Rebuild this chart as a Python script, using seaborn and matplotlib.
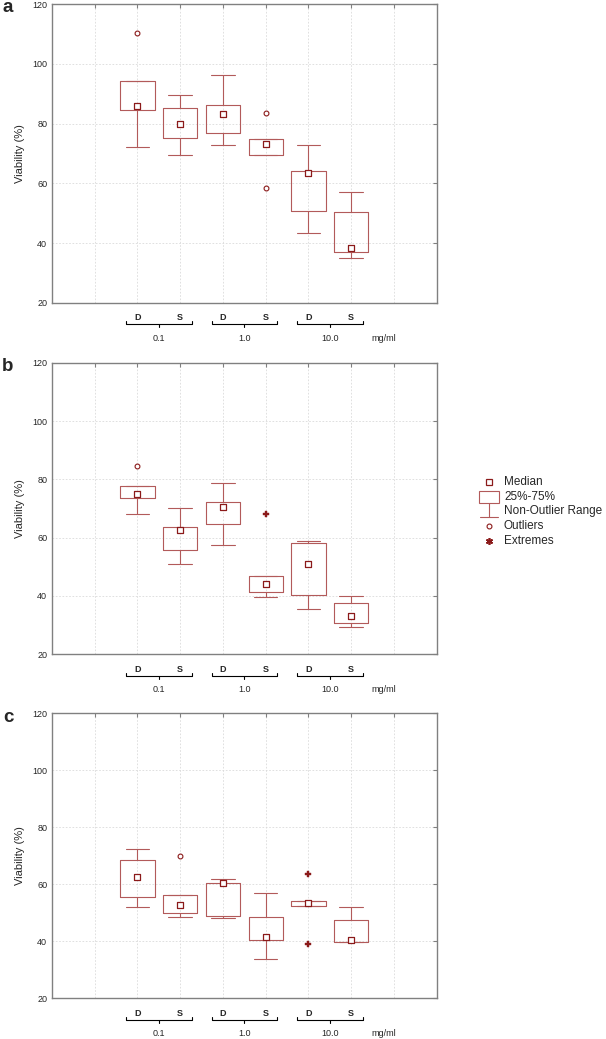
import matplotlib
matplotlib.use("Agg")
import matplotlib.pyplot as plt
import matplotlib.transforms as mtransforms
from matplotlib.patches import Rectangle
import seaborn as sns

# categories
groups = ["0.1", "1.0", "10.0"]
treatments = ["D", "S", "D", "S", "D", "S"]
positions = [2, 3, 4, 5, 6, 7]

# panel a
a_median = [86.0, 79.9, 83.1, 73.2, 63.5, 38.3]
a_q1 = [84.5, 75.1, 76.9, 69.6, 50.7, 36.9]
a_q3 = [94.1, 85.3, 86.3, 74.8, 64.0, 50.3]
a_whislo = [72.3, 69.6, 73.0, 69.6, 43.5, 35.2]
a_whishi = [94.1, 89.5, 96.3, 74.8, 73.0, 57.1]
a_outliers = [[110.2], [], [], [83.5, 58.3], [], []]
a_extremes = [[], [], [], [], [], []]

# panel b
b_median = [74.9, 62.6, 70.4, 44.0, 51.1, 33.3]
b_q1 = [73.6, 55.8, 64.7, 41.5, 40.3, 30.6]
b_q3 = [77.6, 63.8, 72.3, 46.9, 58.1, 37.7]
b_whislo = [68.2, 50.9, 57.5, 39.7, 35.7, 29.3]
b_whishi = [77.6, 70.3, 78.9, 46.9, 58.9, 40.1]
b_outliers = [[84.6], [], [], [], [], []]
b_extremes = [[], [], [], [68.2], [], []]

# panel c
c_median = [62.7, 52.8, 60.3, 41.4, 53.4, 40.6]
c_q1 = [55.4, 50.1, 49.0, 40.3, 52.4, 39.6]
c_q3 = [68.4, 56.1, 60.4, 48.6, 54.2, 47.4]
c_whislo = [52.1, 48.7, 48.3, 33.7, 52.4, 39.6]
c_whishi = [72.5, 56.1, 61.8, 56.8, 54.2, 52.1]
c_outliers = [[], [70.1], [], [], [], []]
c_extremes = [[], [], [], [], [63.7, 39.1], []]

BOX_C = "#b25a5a"
MED_C = "#8b1a1a"
SPINE_C = "#808080"
W, H = 606, 1039

sns.set_style("white")
plt.rcParams["font.family"] = ["Liberation Sans", "DejaVu Sans"]

fig = plt.figure(figsize=(W / 100, H / 100), dpi=100)


def px_axes(left, top, right, bottom):
    return fig.add_axes([left / W, 1 - bottom / H, (right - left) / W, (bottom - top) / H])


def below(ax, dy_px):
    return ax.get_xaxis_transform() + mtransforms.ScaledTranslation(0, -dy_px / 100, fig.dpi_scale_trans)


def flat(lists):
    xs = [positions[i] for i, vals in enumerate(lists) for _ in vals]
    ys = [v for vals in lists for v in vals]
    return xs, ys


def draw_panel(ax, med, q1, q3, lo, hi, outliers, extremes):
    stats = [dict(med=m, q1=a, q3=b, whislo=l, whishi=h, fliers=[])
             for m, a, b, l, h in zip(med, q1, q3, lo, hi)]
    line = dict(color=BOX_C, linewidth=0.8)
    ax.bxp(stats, positions=positions, widths=0.8, capwidths=0.55, showfliers=False,
           boxprops=line, whiskerprops=line, capprops=line,
           medianprops=dict(linestyle="none"), manage_ticks=False)

    sns.scatterplot(x=positions, y=med, marker="s", s=15, color="white",
                    edgecolor=MED_C, linewidth=0.9, ax=ax, zorder=4)
    ox, oy = flat(outliers)
    if ox:
        sns.scatterplot(x=ox, y=oy, marker="o", s=12, color="white",
                        edgecolor=MED_C, linewidth=0.8, ax=ax, zorder=4)
    ex, ey = flat(extremes)
    if ex:
        sns.scatterplot(x=ex, y=ey, marker="P", s=18, color=MED_C,
                        edgecolor=MED_C, linewidth=0.3, ax=ax, zorder=4)

    ax.set_xlim(0, 9)
    ax.set_ylim(20, 120)
    ax.set_yticks(range(20, 121, 20))
    ax.set_xticks(range(1, 9))
    ax.set_xticklabels([])
    ax.grid(True, color="#dadada", linestyle=(0, (2, 2)), linewidth=0.6)
    ax.set_axisbelow(True)
    ax.tick_params(axis="x", bottom=False, top=True, direction="in", length=3, color=SPINE_C)
    ax.tick_params(axis="y", left=False, right=True, direction="in", length=3, color=SPINE_C,
                   labelsize=6.5, pad=3.5)
    for sp in ax.spines.values():
        sp.set_color(SPINE_C)
        sp.set_linewidth(1.0)

    # D / S labels, brackets, concentrations
    for p, lab in zip(positions, treatments):
        ax.text(p, 0, lab, transform=below(ax, 15), ha="center", va="center",
                fontsize=6.5, fontweight="bold")
    hook = 3.0 / (ax.get_position().height * fig.bbox.height)
    tb = below(ax, 21.5)
    for g, name in enumerate(groups):
        x0 = positions[2 * g] - 0.26
        x1 = positions[2 * g + 1] + 0.27
        xc = (positions[2 * g] + positions[2 * g + 1]) / 2
        ax.plot([x0, x0, x1, x1], [hook, 0, 0, hook], transform=tb, clip_on=False,
                color="black", linewidth=0.8)
        ax.plot([xc, xc], [0, -hook], transform=tb, clip_on=False, color="black", linewidth=0.8)
        ax.text(xc, 0, name, transform=below(ax, 35.5), ha="center", va="center", fontsize=6.5)
    ax.text(7.76, 0, "mg/ml", transform=below(ax, 35.5), ha="center", va="center", fontsize=6.5)


panels = [
    ("a", (52, 4, 436.7, 303), a_median, a_q1, a_q3, a_whislo, a_whishi, a_outliers, a_extremes),
    ("b", (52, 362.7, 436.7, 654.3), b_median, b_q1, b_q3, b_whislo, b_whishi, b_outliers, b_extremes),
    ("c", (52, 713.3, 436.7, 998.3), c_median, c_q1, c_q3, c_whislo, c_whishi, c_outliers, c_extremes),
]

for letter, box, *data in panels:
    ax = px_axes(*box)
    draw_panel(ax, *data)
    top, bottom = box[1], box[3]
    fig.text(20 / W, 1 - (top + bottom) / 2 / H, "Viability (%)", rotation=90,
             ha="center", va="center", fontsize=8)
    fig.text(8 / W, 1 - (top + 4) / H, letter, ha="center", va="center",
             fontsize=13.5, fontweight="bold")

# legend
lax = px_axes(470, 470, 606, 552)
lax.set_xlim(470, 606)
lax.set_ylim(552, 470)
lax.axis("off")
lax.plot(489, 481.7, marker="s", ms=3.8, mfc="white", mec=MED_C, mew=0.9)
lax.add_patch(Rectangle((479.3, 490.7), 19.7, 12.6, fill=False, ec=BOX_C, lw=0.8))
lax.plot([489, 489], [503.3, 516.7], color=BOX_C, lw=0.8)
lax.plot([480, 498.5], [516.7, 516.7], color=BOX_C, lw=0.8)
lax.plot(489, 526, marker="o", ms=3.5, mfc="white", mec=MED_C, mew=0.8)
lax.plot(489, 540.7, marker=(6, 2, 0), ms=5, color=MED_C, mew=1.2)
for y, txt in zip([481.7, 496.7, 511, 526, 540.7],
                  ["Median", "25%-75%", "Non-Outlier Range", "Outliers", "Extremes"]):
    lax.text(504, y, txt, ha="left", va="center", fontsize=8.5)

fig.savefig("out.png", dpi=100)
